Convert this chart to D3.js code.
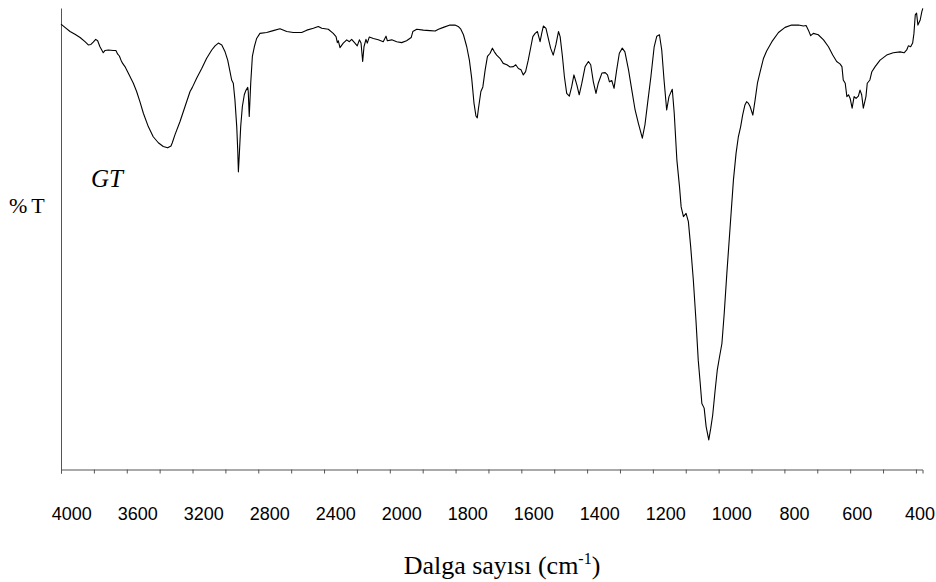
<!DOCTYPE html>
<html>
<head>
<meta charset="utf-8">
<script src="https://cdn.jsdelivr.net/npm/d3@7"></script>
<style>
  html, body { margin: 0; padding: 0; background: #fff; }
  svg { display: block; }
</style>
</head>
<body>
<svg id="chart" width="936" height="582"></svg>
<script>
// Wavenumbers (cm-1) of the traced spectrum
const wavenumbers = [
  4000,3976,3945,3915,3884,3854,3834,3818,3804,3789,3777,3763,3743,3732,3712,3682,3666,3655,3645,3635,
  3625,3611,3591,3560,3540,3520,3499,3469,3439,3408,3378,3351,3331,3323,3307,3276,3246,3215,3201,3175,
  3144,3114,3083,3063,3043,3022,3002,2986,2972,2962,2952,2942,2931,2925,2921,2915,2907,2897,2885,2876,
  2864,2861,2855,2846,2836,2824,2810,2790,2749,2709,2668,2627,2587,2536,2505,2465,2435,2414,2374,2344,
  2327,2319,2313,2303,2283,2262,2246,2232,2212,2198,2185,2175,2165,2157,2145,2137,2125,2100,2070,2040,
  2023,2015,1994,1979,1964,1949,1935,1930,1918,1898,1878,1862,1852,1837,1817,1802,1792,1784,1776,1766,
  1758,1751,1744,1738,1734,1731,1723,1717,1710,1703,1695,1688,1682,1675,1665,1655,1644,1634,1624,1617,
  1609,1601,1594,1587,1579,1571,1565,1558,1551,1543,1538,1533,1525,1518,1511,1503,1495,1487,1482,1475,
  1469,1462,1454,1447,1440,1431,1424,1416,1406,1396,1389,1381,1373,1366,1355,1345,1338,1332,1325,1318,
  1310,1302,1293,1285,1274,1264,1254,1244,1232,1224,1216,1206,1196,1188,1180,1173,1166,1158,1151,1141,
  1135,1127,1119,1114,1107,1099,1092,1085,1077,1069,1062,1056,1051,1044,1038,1030,1024,1018,1011,1004,
  998,990,983,975,965,955,947,940,933,927,920,915,910,904,896,889,882,874,864,854,
  838,818,798,778,757,742,734,727,720,712,697,681,666,653,641,631,625,621,615,610,
  605,600,594,588,582,575,570,565,560,552,548,540,534,524,509,489,469,448,436,428,
  423,416,410,406,402,398,394,387,382,379
];
// Transmittance (%T) at each wavenumber
const transmittance = [
  96.5,95.8,94.9,94.3,93.6,92.7,92.0,92.1,92.6,93.2,92.9,91.6,90.3,90.8,90.9,90.8,90.8,90.0,89.6,88.7,
  88.0,87.3,85.9,83.7,81.9,79.7,77.2,74.3,72.1,70.8,70.0,69.7,70.1,70.8,72.5,75.4,78.6,81.9,82.8,84.8,
  86.9,89.1,90.9,91.8,92.4,92.0,90.5,88.7,86.2,84.4,83.7,80.1,74.3,69.2,64.5,68.5,74.3,78.6,81.2,82.1,
  82.8,81.9,76.5,83.7,89.5,91.6,93.4,94.5,94.7,95.1,95.5,94.9,94.7,94.7,95.2,95.6,96.0,95.6,95.4,94.5,
  93.8,92.5,92.9,91.4,92.4,93.1,92.7,93.2,92.4,91.8,93.1,92.4,88.4,91.6,93.2,92.4,93.7,93.4,93.1,92.7,
  93.9,92.9,93.1,92.7,92.5,92.9,93.6,94.9,95.4,95.2,95.1,95.0,95.4,95.8,96.3,96.3,96.0,95.4,94.2,91.6,
  88.7,84.8,79.4,76.6,76.2,77.9,81.9,82.9,86.6,89.5,90.2,91.3,90.5,89.8,89.1,88.0,87.7,87.2,87.3,87.7,
  86.9,86.6,85.5,86.2,88.7,91.6,93.8,94.5,94.9,92.7,94.5,96.1,95.6,93.4,91.3,89.8,92.0,94.9,93.8,89.5,
  85.1,81.5,80.9,82.9,85.5,83.3,81.2,83.7,87.3,88.4,87.7,84.0,81.5,83.7,85.9,86.0,85.5,84.0,84.3,82.6,
  86.6,90.2,91.3,90.5,86.6,82.2,77.9,75.0,71.8,74.7,79.4,85.1,91.6,93.9,94.2,90.9,84.4,77.9,80.8,82.4,
  77.2,67.1,61.3,56.9,54.8,55.5,53.7,48.3,41.1,32.4,23.7,18.7,14.3,13.3,9.3,6.4,8.9,11.8,16.9,21.6,
  24.1,27.3,33.8,42.5,52.6,62.7,68.5,72.1,74.3,76.8,79.0,79.7,79.4,78.6,76.8,80.1,83.7,86.1,89.0,90.7,
  92.7,94.7,95.8,96.3,96.3,96.1,96.2,95.2,94.0,94.5,94.2,93.1,91.6,89.8,88.4,87.9,87.3,84.4,83.7,80.8,
  81.2,80.4,78.3,80.8,80.4,80.9,82.2,81.2,78.3,80.8,83.7,84.4,86.2,87.3,88.7,89.8,90.3,90.5,90.3,90.9,
  91.8,91.6,92.4,94.5,98.5,98.9,96.3,97.4,99.2,99.9
];
// Axis ticks and labels
const majorTicks = [4000,3800,3600,3400,3200,3000,2800,2600,2400,2200,2000,1900,1800,1700,1600,1500,1400,1300,1200,1100,1000,900,800,700,600,500,400];
const tickLabels = [4000,3600,3200,2800,2400,2000,1800,1600,1400,1200,1000,800,600,400];
const xTitle = "Dalga sayısı (cm";
const yTitle = "%T";
const sampleLabel = "GT";

const svg = d3.select("#chart");
const axisColor = "#555";

// Piecewise x scale (scale change at 2000 cm-1)
const x = d3.scaleLinear().domain([4000, 2000, 380]).range([61, 389.8, 922.5]);
const xLabel = d3.scaleLinear().domain([4000, 2000, 1000, 400]).range([71.7, 401.7, 731.7, 920]);
const y = d3.scaleLinear().domain([0, 100]).range([469.5, 8]);

// x axis
const xAxis = d3.axisBottom(x).tickValues(majorTicks).tickSize(4).tickSizeOuter(4).tickFormat("");
const gx = svg.append("g").attr("transform", "translate(0,469.5)").call(xAxis);
gx.selectAll("path, line").attr("stroke", axisColor).attr("stroke-width", 1);

// y axis (line only)
const yAxis = d3.axisLeft(y).tickValues([]).tickSizeOuter(0);
const gy = svg.append("g").attr("transform", "translate(61,0)").call(yAxis);
gy.selectAll("path").attr("stroke", axisColor).attr("stroke-width", 1);

// tick labels
svg.append("g").selectAll("text").data(tickLabels).join("text")
  .attr("x", d => xLabel(d)).attr("y", 519.5)
  .attr("text-anchor", "middle")
  .attr("font-family", "Liberation Sans, Arial, sans-serif")
  .attr("font-size", 18).attr("fill", "#000")
  .text(d => d);

// spectrum
const data = wavenumbers.map((w, i) => ({ w, t: transmittance[i] }));
svg.append("path").datum(data)
  .attr("fill", "none").attr("stroke", "#000").attr("stroke-width", 1.1)
  .attr("stroke-linejoin", "round")
  .attr("d", d3.line().x(d => x(d.w)).y(d => y(d.t)));

// y title
const yt = svg.append("text").attr("x", 9).attr("y", 213)
  .attr("font-family", "Liberation Serif, Times New Roman, serif").attr("font-size", 22).attr("fill", "#000");
yt.append("tspan").text("%");
yt.append("tspan").attr("dx", 4).text("T");

// sample label
svg.append("text").attr("x", 91).attr("y", 186.5)
  .attr("font-family", "Liberation Serif, Times New Roman, serif").attr("font-style", "italic")
  .attr("font-size", 25).attr("fill", "#000").text(sampleLabel);

// x title
const xt = svg.append("text").attr("x", 502).attr("y", 574).attr("text-anchor", "middle")
  .attr("font-family", "Liberation Serif, Times New Roman, serif").attr("font-size", 26).attr("fill", "#000");
xt.append("tspan").text(xTitle);
xt.append("tspan").attr("font-size", 16).attr("dy", -10).text("-1");
xt.append("tspan").attr("dy", 10).text(")");
</script>
</body>
</html>
